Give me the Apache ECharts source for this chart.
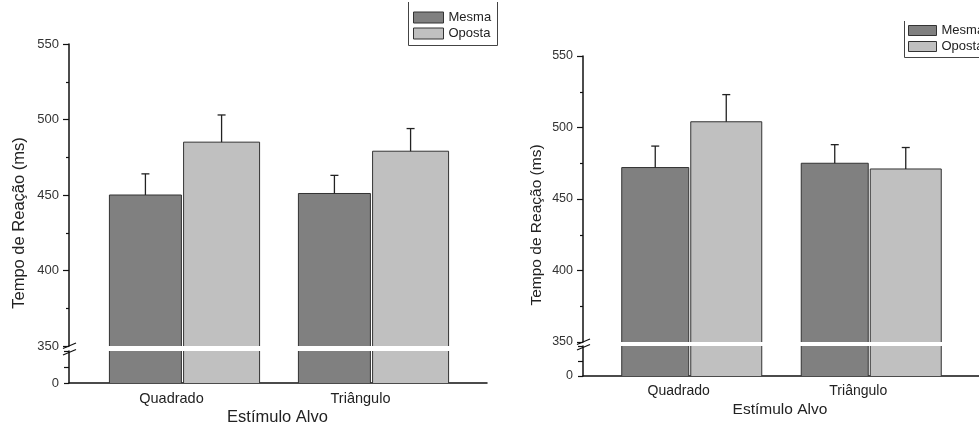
<!DOCTYPE html>
<html>
<head>
<meta charset="utf-8">
<script src="https://cdn.jsdelivr.net/npm/echarts@6/dist/echarts.min.js"></script>
<style>
  html, body { margin: 0; padding: 0; background: #fff; }
  #chart { width: 979px; height: 425px; }
</style>
</head>
<body>
<div id="chart"></div>
<script>
const categories = ["Quadrado", "Triângulo"];
const seriesNames = ["Mesma", "Oposta"];

// painel esquerdo
const leftMesma = [450, 451];
const leftMesmaErr = [14, 12];
const leftOposta = [485, 479];
const leftOpostaErr = [18, 15];

// painel direito
const rightMesma = [472, 475];
const rightMesmaErr = [15, 13];
const rightOposta = [504, 471];
const rightOpostaErr = [19, 15];

// eixo quebrado
const upperRange = [350, 550];
const lowerRange = [0, 350];
const tickStep = 50;

const FONT = "'Liberation Sans', Arial, sans-serif";
const colors = ["#808080", "#c0c0c0"];
const barGap = 0.03;

const panels = [
  {
    values: [leftMesma, leftOposta],
    errs: [leftMesmaErr, leftOpostaErr],
    left: 90, width: 378, top: 44, height: 302,
    lowerTop: 351, lowerHeight: 32,
    axisX: 69, lineWidth: 418,
    widths: [72, 76],
    tick: 13, cat: 14.5, title: 16.5,
    yTitle: [19, 223], xTitle: [277.5, 417],
    legend: { left: 413, top: 11, w: 30, h: 11 },
    box: [[408.5, 2], [408.5, 45.5], [497.5, 45.5], [497.5, 2]],
  },
  {
    values: [rightMesma, rightOposta],
    errs: [rightMesmaErr, rightOpostaErr],
    left: 602, width: 359, top: 56, height: 286,
    lowerTop: 346, lowerHeight: 30,
    axisX: 583, lineWidth: 420,
    widths: [67, 71],
    tick: 12.5, cat: 14, title: 15.5,
    yTitle: [537, 225], xTitle: [780, 410],
    legend: { left: 908, top: 24, w: 28, h: 10 },
    box: [[904.5, 21], [904.5, 57.5], [990, 57.5]],
  },
];

function barEdges(widths, s) {
  const g = widths[0] * barGap;
  const sum = widths[0] + g + widths[1];
  const off = s === 0 ? -sum / 2 : -sum / 2 + widths[0] + g;
  return [off, widths[s]];
}

const grid = [], xAxis = [], yAxis = [], series = [], legend = [], graphic = [];
const axisColor = "#111";

panels.forEach((p, pi) => {
  const gi = pi * 3;
  const off = p.left - p.axisX;
  grid.push(
    { left: p.left, top: p.top, width: p.width, height: p.height },
    { left: p.left, top: p.lowerTop, width: p.width, height: p.lowerHeight },
    { left: p.axisX, top: p.lowerTop, width: p.lineWidth, height: p.lowerHeight }
  );
  xAxis.push(
    { gridIndex: gi, type: "category", data: categories, show: false },
    {
      gridIndex: gi + 1, type: "category", data: categories,
      axisLine: { show: false }, axisTick: { show: false },
      axisLabel: { color: "#222", fontSize: p.cat, fontFamily: FONT, margin: 8, padding: [0, 26, 0, 0] },
    },
    {
      gridIndex: gi + 2, type: "value", min: 0, max: 1,
      axisLine: { show: true, onZero: false, lineStyle: { color: axisColor, width: 1.5 } },
      axisTick: { show: false }, axisLabel: { show: false }, splitLine: { show: false },
    }
  );
  yAxis.push(
    {
      gridIndex: gi, type: "value", min: upperRange[0], max: upperRange[1], interval: tickStep, offset: off,
      axisLine: { show: true, lineStyle: { color: axisColor, width: 1.5 } },
      axisTick: { show: true, length: 6, lineStyle: { color: axisColor, width: 1.2 } },
      minorTick: { show: true, splitNumber: 2, length: 3, lineStyle: { color: axisColor, width: 1.2 } },
      splitLine: { show: false },
      axisLabel: { color: "#333", fontSize: p.tick, fontFamily: FONT, margin: 10 },
    },
    {
      gridIndex: gi + 1, type: "value", min: lowerRange[0], max: lowerRange[1], interval: 175, offset: off,
      axisLine: { show: true, lineStyle: { color: axisColor, width: 1.5 } },
      axisTick: { show: true, length: 5, lineStyle: { color: axisColor, width: 1.2 } },
      splitLine: { show: false },
      axisLabel: { color: "#333", fontSize: p.tick, fontFamily: FONT, margin: 10,
        formatter: (v) => (v === 0 ? "0" : "") },
    },
    { gridIndex: gi + 2, type: "value", min: 0, max: 1, show: false }
  );

  const customData = [];
  seriesNames.forEach((name, s) => {
    [gi, gi + 1].forEach((ai) => {
      series.push({
        type: "bar", name, xAxisIndex: ai, yAxisIndex: ai,
        data: p.values[s], barWidth: p.widths[s], barGap: barGap * 100 + "%",
        itemStyle: { color: colors[s], borderWidth: 0 },
        silent: true,
      });
    });
    p.values[s].forEach((v, i) => customData.push([i, v, p.errs[s][i], s]));
  });

  const stroke = { stroke: "#333", lineWidth: 1, fill: "none" };
  // contorno + barra de erro (parte de cima)
  series.push({
    type: "custom", name: "upper" + pi, xAxisIndex: gi, yAxisIndex: gi, z: 3, silent: true,
    data: customData,
    renderItem(params, api) {
      const ci = api.value(0), v = api.value(1), e = api.value(2), s = api.value(3);
      const c = api.coord([ci, v]);
      const base = api.coord([ci, upperRange[0]])[1];
      const top = api.coord([ci, v + e])[1];
      const [o, w] = barEdges(p.widths, s);
      const x0 = c[0] + o, x1 = x0 + w, xc = (x0 + x1) / 2;
      return {
        type: "group",
        children: [
          { type: "polyline", shape: { points: [[x0, base], [x0, c[1]], [x1, c[1]], [x1, base]] }, style: stroke },
          { type: "line", shape: { x1: xc, y1: c[1], x2: xc, y2: top }, style: { stroke: "#222", lineWidth: 1.3 } },
          { type: "line", shape: { x1: xc - 4, y1: top, x2: xc + 4, y2: top }, style: { stroke: "#222", lineWidth: 1.3 } },
        ],
      };
    },
  });
  // laterais (parte de baixo)
  series.push({
    type: "custom", name: "lower" + pi, xAxisIndex: gi + 1, yAxisIndex: gi + 1, z: 3, silent: true,
    data: customData,
    renderItem(params, api) {
      const ci = api.value(0), v = api.value(1), s = api.value(3);
      const b = api.coord([ci, lowerRange[0]]);
      const t = api.coord([ci, Math.min(v, lowerRange[1])])[1];
      const [o, w] = barEdges(p.widths, s);
      const x0 = b[0] + o, x1 = x0 + w;
      return {
        type: "group",
        children: [
          { type: "line", shape: { x1: x0, y1: b[1], x2: x0, y2: t }, style: stroke },
          { type: "line", shape: { x1: x1, y1: b[1], x2: x1, y2: t }, style: stroke },
        ],
      };
    },
  });

  legend.push({
    data: seriesNames, orient: "vertical", left: p.legend.left, top: p.legend.top,
    padding: 0, itemGap: 3, itemWidth: p.legend.w, itemHeight: p.legend.h, icon: "rect",
    itemStyle: { borderColor: "#333", borderWidth: 1 },
    textStyle: { color: "#222", fontSize: 13, fontFamily: FONT },
    selectedMode: false,
  });

  // marcas de quebra do eixo
  const yb = p.top + p.height;
  const yt = p.lowerTop;
  const ax = p.axisX;
  [[yb + 2.5, yb - 3], [yt + 4, yt - 1.5]].forEach(([ya, yz]) => {
    graphic.push({ type: "line", shape: { x1: ax - 6, y1: ya, x2: ax + 7, y2: yz },
      style: { stroke: axisColor, lineWidth: 1.2 }, silent: true });
  });
  graphic.push(
    { type: "polyline", shape: { points: p.box }, style: { stroke: "#444", lineWidth: 1, fill: "none" }, silent: true },
    { type: "text", x: p.yTitle[0], y: p.yTitle[1], rotation: Math.PI / 2,
      style: { text: "Tempo de Reação (ms)", fill: "#222", fontSize: p.title, fontFamily: FONT,
        textAlign: "center", textVerticalAlign: "middle" } },
    { type: "text", x: p.xTitle[0], y: p.xTitle[1],
      style: { text: "Estímulo Alvo", fill: "#222", fontSize: p.title, fontFamily: FONT,
        textAlign: "center", textVerticalAlign: "middle" } }
  );
});

const chart = echarts.init(document.querySelector("#chart"));
chart.setOption({
  animation: false,
  grid, xAxis, yAxis, series, legend, graphic,
});
</script>
</body>
</html>
